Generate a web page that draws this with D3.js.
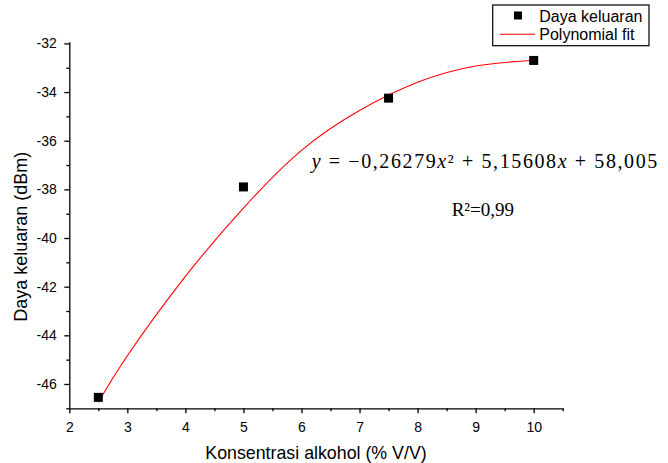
<!DOCTYPE html>
<html>

<head>
    <meta charset='utf-8'>
    <title>Daya keluaran</title>
    <script src='https://d3js.org/d3.v7.min.js'></script>
    <style>
        body { margin: 0; background: white; }
        text { font-family: 'Liberation Sans', Arial, sans-serif; }
    </style>
</head>

<body>
    <script>
        // measured points
        const konsentrasi = [2.5, 5, 7.5, 10];
        const daya = [-46.55, -37.9, -34.25, -32.7];

        // fit curve
        const fitX = [2.5, 3, 4, 5, 6, 7, 8, 9, 10];
        const fitY = [-46.75, -44.84, -41.58, -38.77, -36.4, -34.76, -33.6, -32.93, -32.69];

        const xTicks = [2, 3, 4, 5, 6, 7, 8, 9, 10];
        const yTicks = [-32, -34, -36, -38, -40, -42, -44, -46];

        const width = 668, height = 463;

        const svg = d3.select('body')
            .append('svg')
            .attr('width', width)
            .attr('height', height);

        const x = d3.scaleLinear()
            .domain([2, 10.5])
            .range([69.3, 562.7]);

        const y = d3.scaleLinear()
            .domain([-47, -31.93])
            .range([408.3, 41.7]);

        // minor ticks first so major ones sit on top
        svg.append('g')
            .attr('transform', 'translate(0,408.3)')
            .call(d3.axisBottom(x).tickValues(d3.range(2.5, 10.6, 1)).tickSize(3).tickFormat(''))
            .call(g => g.select('.domain').remove())
            .selectAll('line').attr('stroke-width', 1.3);

        svg.append('g')
            .attr('transform', 'translate(69.3,0)')
            .call(d3.axisLeft(y).tickValues(d3.range(-47, -31.9, 2)).tickSize(3).tickFormat(''))
            .call(g => g.select('.domain').remove())
            .selectAll('line').attr('stroke-width', 1.3);

        const xAxis = svg.append('g')
            .attr('transform', 'translate(0,408.3)')
            .call(d3.axisBottom(x).tickValues(xTicks).tickSize(5).tickPadding(8.4).tickSizeOuter(0).tickFormat(d3.format('d')));

        const yAxis = svg.append('g')
            .attr('transform', 'translate(69.3,0)')
            .call(d3.axisLeft(y).tickValues(yTicks).tickSize(5).tickPadding(7.5).tickSizeOuter(0).tickFormat(d => String(d)));

        [xAxis, yAxis].forEach(g => {
            g.select('.domain').attr('stroke-width', 1.3);
            g.selectAll('line').attr('stroke-width', 1.3);
            g.selectAll('text')
                .attr('font-size', '14px')
                .attr('font-family', "'Liberation Sans', Arial, sans-serif")
                .attr('fill', '#000');
        });

        // axis titles
        svg.append('text')
            .attr('x', 316)
            .attr('y', 459)
            .attr('text-anchor', 'middle')
            .attr('font-size', '17.8px')
            .text('Konsentrasi alkohol (% V/V)');

        svg.append('text')
            .attr('transform', 'translate(26.5,236.7) rotate(-90)')
            .attr('text-anchor', 'middle')
            .attr('font-size', '18px')
            .text('Daya keluaran (dBm)');

        // fit curve
        const line = d3.line()
            .x((d, i) => x(fitX[i]))
            .y(d => y(d))
            .curve(d3.curveNatural);

        svg.append('path')
            .datum(fitY)
            .attr('fill', 'none')
            .attr('stroke', 'red')
            .attr('stroke-width', 1.1)
            .attr('d', line);

        // data squares
        svg.selectAll('.pt')
            .data(daya)
            .enter()
            .append('rect')
            .attr('class', 'pt')
            .attr('x', (d, i) => x(konsentrasi[i]) - 4.5)
            .attr('y', d => y(d) - 4.5)
            .attr('width', 9)
            .attr('height', 9)
            .attr('fill', 'black');

        // legend
        const legend = svg.append('g');
        legend.append('rect')
            .attr('x', 492.7).attr('y', 5)
            .attr('width', 156.3).attr('height', 40.7)
            .attr('fill', 'white')
            .attr('stroke', 'black')
            .attr('stroke-width', 1.2);
        legend.append('rect')
            .attr('x', 514).attr('y', 11.5)
            .attr('width', 8).attr('height', 8)
            .attr('fill', 'black');
        legend.append('text')
            .attr('x', 539.3).attr('y', 21.5)
            .attr('font-size', '16px')
            .text('Daya keluaran');
        legend.append('line')
            .attr('x1', 500).attr('x2', 535)
            .attr('y1', 34.3).attr('y2', 34.3)
            .attr('stroke', 'red')
            .attr('stroke-width', 1.1);
        legend.append('text')
            .attr('x', 539.3).attr('y', 39.5)
            .attr('font-size', '16px')
            .text('Polynomial fit');

        // equation annotation
        const eq = svg.append('text')
            .attr('x', 311.7).attr('y', 168.3)
            .attr('font-size', '20px')
            .attr('letter-spacing', '1.6px')
            .style('font-family', "'Liberation Serif', 'Times New Roman', serif");
        eq.append('tspan').attr('font-style', 'italic').text('y');
        eq.append('tspan').text(' = \u22120,26279');
        eq.append('tspan').attr('font-style', 'italic').text('x');
        eq.append('tspan').text('\u00b2 + 5,15608');
        eq.append('tspan').attr('font-style', 'italic').text('x');
        eq.append('tspan').text(' + 58,005');

        svg.append('text')
            .attr('x', 451.7).attr('y', 216)
            .attr('font-size', '19px')
            .style('font-family', "'Liberation Serif', 'Times New Roman', serif")
            .text('R\u00b2=0,99');
    </script>
</body>

</html>
